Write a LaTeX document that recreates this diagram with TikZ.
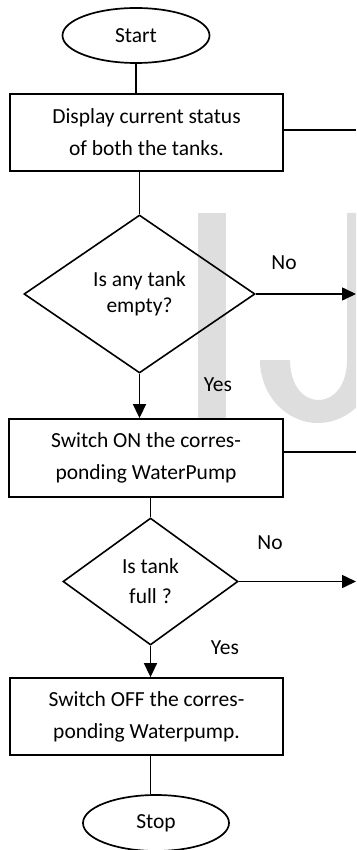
\documentclass[tikz,border=0pt]{standalone}
\usepackage{fontspec}
\setmainfont{Carlito}
\usetikzlibrary{shapes.geometric,arrows.meta}
\begin{document}
\begin{tikzpicture}[x=1pt,y=-1pt,
  every node/.style={font=\fontsize{21.5}{32}\selectfont},
  term/.style={draw, ellipse, line width=1.7pt, minimum width=147pt, minimum height=55pt, inner sep=0pt},
  proc/.style={draw, fill=white, line width=1.8pt, rectangle, inner sep=0pt, align=center},
  dec/.style={draw, diamond, line width=1.6pt, inner sep=0pt, align=center},
  conn/.style={line width=1.6pt},
  arr/.style={line width=1.6pt, -{Triangle[length=14pt,width=13pt]}},
  lbl/.style={inner sep=0pt},
  wm/.style={fill=black!13}]
\useasboundingbox (0,0) rectangle (356,850);
\clip (0,0) rectangle (356,850);
% watermark
\fill[wm] (198,213) rectangle (226,419);
\fill[wm] (347,213) -- (376,213) -- (376,360)
  .. controls (376,395) and (350,423) .. (318,423)
  .. controls (286,423) and (260,395) .. (260,360)
  -- (290,360)
  .. controls (290,385) and (303,400) .. (318.5,400)
  .. controls (334,400) and (347,385) .. (347,360) -- cycle;
% nodes
\coordinate (rx) at (356,0);
\node[term] (start) at (136,35.5) {Start};
\node[proc, minimum width=273pt, minimum height=77pt] (box1) at (146.5,132.5) {Display current status\\of both the tanks.};
\node[dec, minimum width=231pt, minimum height=158pt, aspect=1.46, font=\fontsize{21.5}{26}\selectfont] (d1) at (139.5,294) {Is any tank\\empty?};
\node[proc, minimum width=274pt, minimum height=78pt] (box2) at (146,458) {Switch ON the corres-\\ponding WaterPump};
\node[dec, minimum width=175pt, minimum height=127pt, aspect=1.38, font=\fontsize{21.5}{30}\selectfont] (d2) at (150.5,581.5) {Is tank\\full ?};
\node[proc, minimum width=273pt, minimum height=77pt] (box3) at (146.5,716.5) {Switch OFF the corres-\\ponding Waterpump.};
\node[term, minimum width=146pt, minimum height=56pt] (stop) at (156,823) {Stop};
\node[lbl] (no1) at (284,263) {No};
\node[lbl] (yes1) at (218,385) {Yes};
\node[lbl] (no2) at (270,543) {No};
\node[lbl] (yes2) at (225,648) {Yes};
% connectors
\draw[conn] (start.south) -- (start.south |- box1.north);
\draw[conn] ([yshift=2.5pt]box1.east) -- ([yshift=2.5pt]box1.east -| rx);
\draw[conn] (d1.north |- box1.south) -- (d1.north);
\draw[arr] (d1.east) -- (d1.east -| rx);
\draw[arr] (d1.south) -- (d1.south |- box2.north);
\draw[conn] ([yshift=6pt]box2.east) -- ([yshift=6pt]box2.east -| rx);
\draw[conn] (d2.north |- box2.south) -- (d2.north);
\draw[arr] (d2.east) -- (d2.east -| rx);
\draw[arr] (d2.south) -- (d2.south |- box3.north);
\draw[conn] (d2.south |- box3.south) -- (d2.south |- stop.north);
\end{tikzpicture}
\end{document}
